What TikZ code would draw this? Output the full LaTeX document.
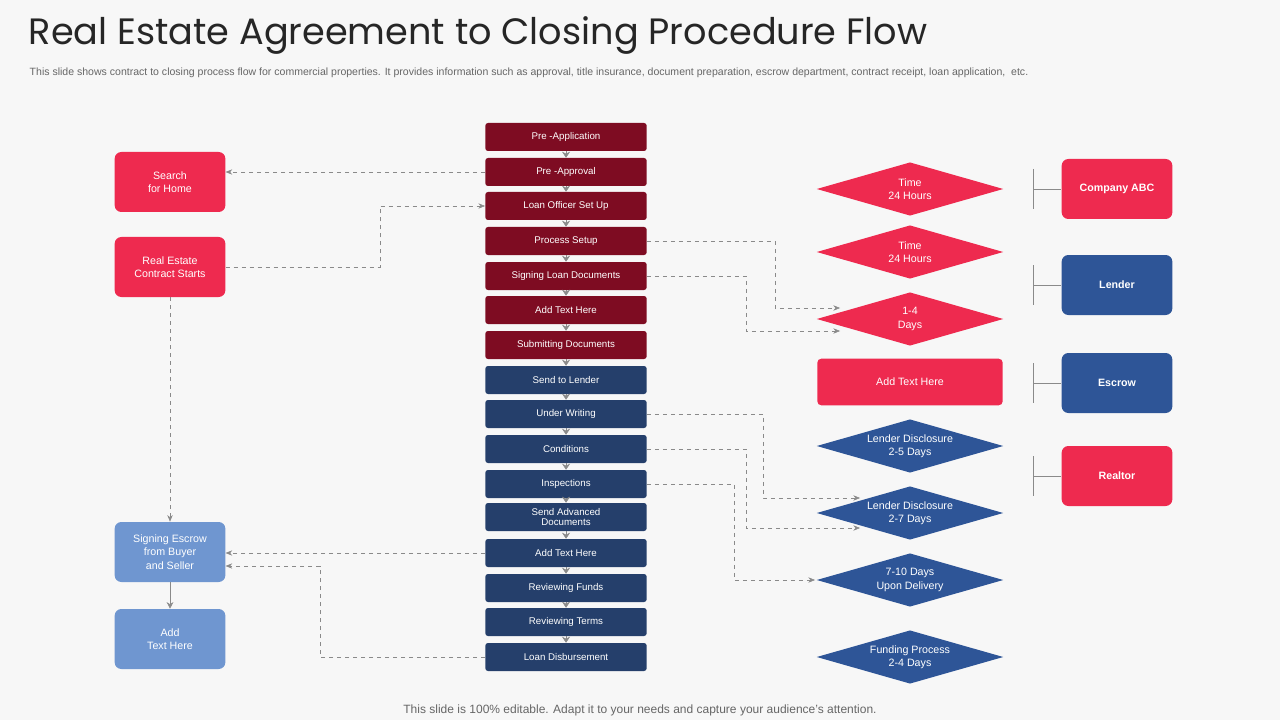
\documentclass[tikz,border=0pt]{standalone}
\usepackage{fontspec}
\setmainfont{Liberation Sans}
\newfontfamily\titlefont{Poppins}
\usetikzlibrary{positioning,shapes.geometric,arrows.meta,calc}
\definecolor{darkred}{HTML}{7E0C22}
\definecolor{brightred}{HTML}{EE2A4F}
\definecolor{navy}{HTML}{253F6B}
\definecolor{midblue}{HTML}{2E5597}
\definecolor{lightblue}{HTML}{6F96D0}
\definecolor{bg}{HTML}{F7F7F7}
\definecolor{linegray}{HTML}{8A8A8A}

\tikzset{
	stage/.style={rectangle, rounded corners=2pt, minimum width=121pt, minimum height=21pt, text=white, font=\fontsize{7.3}{8}\selectfont, align=center, inner sep=1pt},
	sidebox/.style={rectangle, rounded corners=5pt, minimum width=83pt, minimum height=45pt, text=white, font=\fontsize{8}{10}\selectfont, align=center},
	timing/.style={diamond, aspect=3.6, minimum width=140pt, minimum height=40pt, inner sep=0pt, text=white, font=\fontsize{8}{10}\selectfont, align=center},
	link/.style={dashed, linegray, -{Stealth[length=5pt,width=4pt]}},
	tick/.style={linegray, line width=0.5pt},
}

\begin{document}
\begin{tikzpicture}[x=0.75pt, y=-0.75pt]
	\fill[bg] (0,0) rectangle (1280,720);
	\useasboundingbox (0,0) rectangle (1280,720);

	\node[anchor=west, font=\titlefont\fontsize{27.5}{30}\selectfont, text=black!85] (title) at (24,36) {Real Estate Agreement to Closing Procedure Flow};
	\node[anchor=west, font=\fontsize{7.9}{9}\selectfont, text=black!60] (subtitle) at (25,73) {This slide shows contract to closing process flow for commercial properties. It provides information such as approval, title insurance, document preparation, escrow department, contract receipt, loan application,\ \ etc.};
	\node[font=\fontsize{9}{10}\selectfont, text=black!60] (footer) at (640,710) {This slide is 100\% editable. Adapt it to your needs and capture your audience's attention.};

	% center column
	\foreach \i/\y/\c/\t in {1/137/darkred/{Pre -Application}, 2/172/darkred/{Pre -Approval}, 3/206/darkred/{Loan Officer Set Up}, 4/241/darkred/{Process Setup}, 5/276/darkred/{Signing Loan Documents}, 6/310/darkred/{Add Text Here}, 7/345/darkred/{Submitting Documents}, 8/380/navy/{Send to Lender}, 9/414/navy/{Under Writing}, 10/449/navy/{Conditions}, 11/484/navy/{Inspections}, 12/517/navy/{Send Advanced\\Documents}, 13/553/navy/{Add Text Here}, 14/588/navy/{Reviewing Funds}, 15/622/navy/{Reviewing Terms}, 16/657/navy/{Loan Disbursement}}
		\node[stage, fill=\c] (s\i) at (566,\y) {\t};
	\foreach \i [evaluate=\i as \j using int(\i+1)] in {1,...,15}
		\draw[linegray, -{Stealth[length=4.5pt,width=6pt]}] (s\i) -- (s\j);

	% left column
	\node[sidebox, fill=brightred] (home) at (170,182) {Search\\for Home};
	\node[sidebox, fill=brightred] (contract) at (170,267) {Real Estate\\Contract Starts};
	\node[sidebox, fill=lightblue] (escrow) at (170,552) {Signing Escrow\\from Buyer\\and Seller};
	\node[sidebox, fill=lightblue] (addleft) at (170,639) {Add\\Text Here};

	% timings
	\node[timing, fill=brightred] (t1) at (910,189) {Time\\24 Hours};
	\node[timing, fill=brightred] (t2) at (910,252) {Time\\24 Hours};
	\node[timing, fill=brightred] (t3) at (910,319) {1-4\\Days};
	\node[rectangle, rounded corners=3pt, minimum width=139pt, minimum height=35pt, fill=brightred, text=white, font=\fontsize{8}{10}\selectfont] (addmid) at (910,382) {Add Text Here};
	\node[timing, fill=midblue] (t4) at (910,446) {Lender Disclosure\\2-5 Days};
	\node[timing, fill=midblue] (t5) at (910,513) {Lender Disclosure\\2-7 Days};
	\node[timing, fill=midblue] (t6) at (910,580) {7-10 Days\\Upon Delivery};
	\node[timing, fill=midblue] (t7) at (910,657) {Funding Process\\2-4 Days};

	% parties
	\foreach \n/\y/\c/\t in {company/189/brightred/{Company ABC}, lender/285/midblue/{Lender}, escrowbox/383/midblue/{Escrow}, realtor/476/brightred/{Realtor}} {
		\node[sidebox, fill=\c, font=\bfseries\fontsize{8}{10}\selectfont] (\n) at (1117,\y) {\t};
		\coordinate (\n tick) at (1033,\y);
		\draw[tick] ($(\n tick)+(0,-20)$) -- ($(\n tick)+(0,20)$);
		\draw[tick] (\n tick) -- (\n.west);
	}

	% dashed links
	\draw[link] (s2.west) -- (home.east |- s2.west);
	\draw[link] (contract.east) -| (380,206) -- (s3.west);
	\coordinate (in3a) at (840,308);
	\coordinate (in3b) at (840,331);
	\coordinate (in5a) at (860,498);
	\coordinate (in5b) at (860,528);
	\coordinate (in6) at (815,580);
	\draw[link] (s4.east) -| (775,308) -- (in3a);
	\draw[link] (s5.east) -| (746,331) -- (in3b);
	\draw[link] (s9.east) -| (763,498) -- (in5a);
	\draw[link] (s10.east) -| (746,528) -- (in5b);
	\draw[link] (s11.east) -| (734,580) -- (in6);
	\draw[link] (s13.west) -- (escrow.east |- s13.west);
	\draw[link] (s16.west) -| (320,566) -- (escrow.east |- 0,566);
	\draw[link] (contract.south) -- (escrow.north);
	\draw[linegray, -{Stealth[length=5pt,width=5pt]}] (escrow.south) -- (addleft.north);
\end{tikzpicture}
\end{document}
